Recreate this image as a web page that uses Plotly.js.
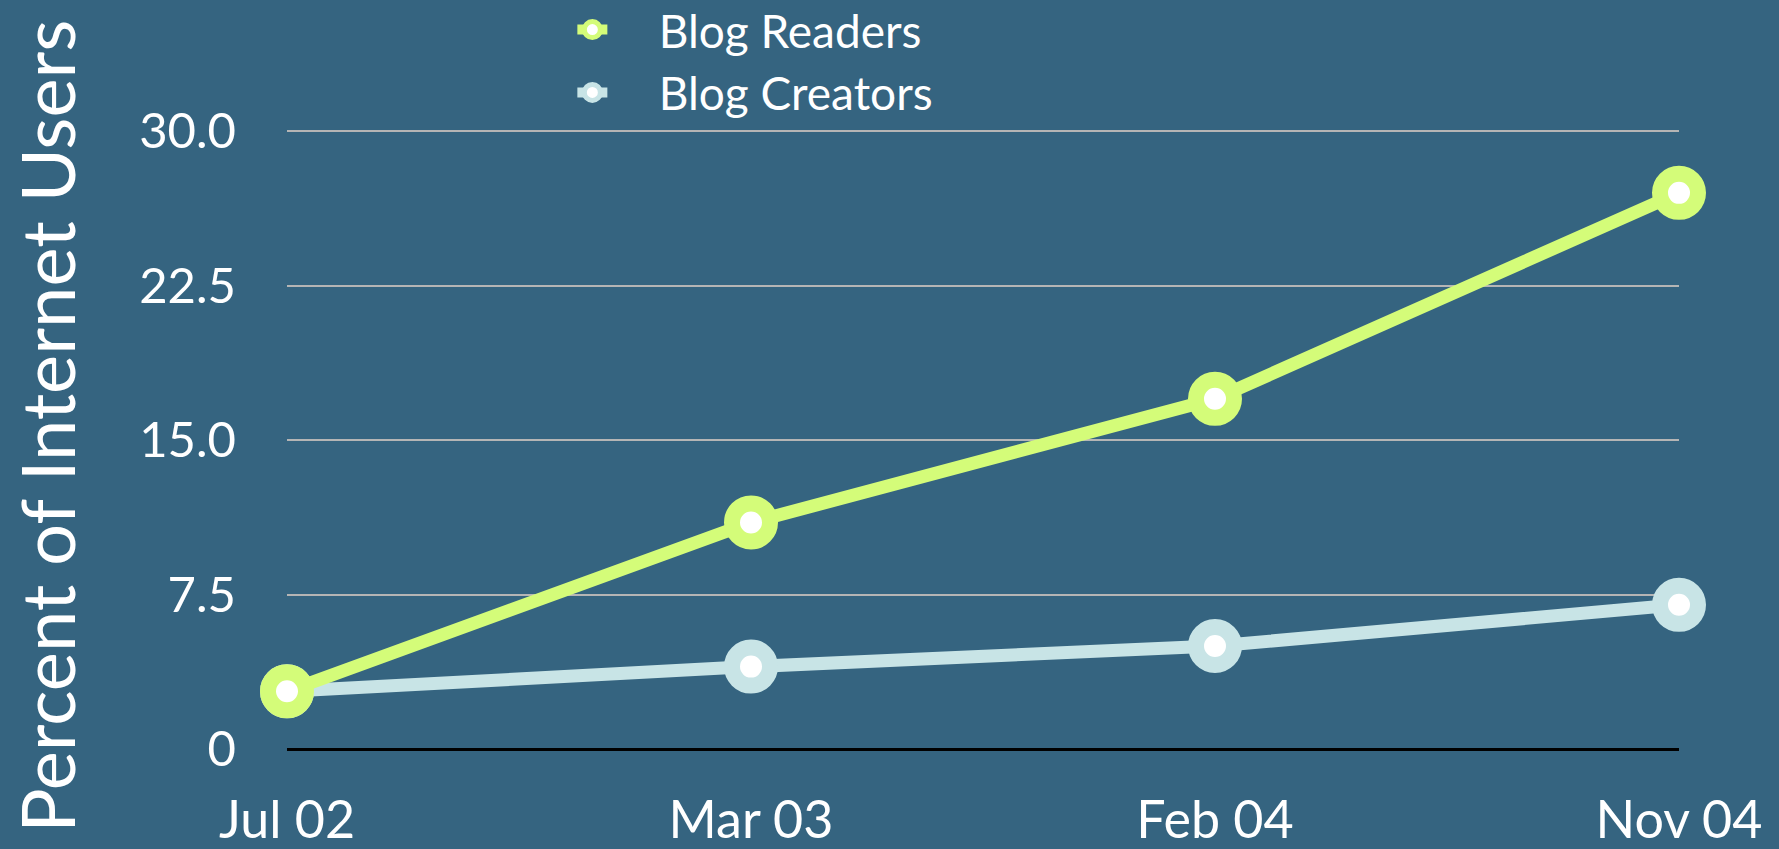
<!DOCTYPE html>
<html>
<head>
<meta charset="utf-8">
<script src="https://cdn.plot.ly/plotly-3.0.1.min.js"></script>
<style>html,body{margin:0;padding:0;background:#356480;}#chart{width:1779px;height:849px;}</style>
</head>
<body>
<div id="chart"></div>
<script>
const categories = ['Jul 02', 'Mar 03', 'Feb 04', 'Nov 04'];
const blogReaders = [2.8, 11, 17, 27];
const blogCreators = [2.8, 4, 5, 7];
const yTickVals = [0, 7.5, 15, 22.5, 30];
const yTickText = ['0', '7.5', '15.0', '22.5', '30.0'];
const seriesNames = ['Blog Readers', 'Blog Creators'];
const yTitle = 'Percent of Internet Users';

const FONT = 'Lato, "Open Sans", sans-serif';
const BG = '#356480';
const GAP = '\u2003\u00a0';

const traces = [
  {
    x: categories, y: blogCreators, name: GAP + seriesNames[1], type: 'scatter', mode: 'lines+markers',
    line: {color: '#c8e4e6', width: 13},
    marker: {size: 38, color: '#ffffff', line: {color: '#c8e4e6', width: 16}},
    cliponaxis: false, legendrank: 2
  },
  {
    x: categories, y: blogReaders, name: GAP + seriesNames[0], type: 'scatter', mode: 'lines+markers',
    line: {color: '#d4fc79', width: 13},
    marker: {size: 38, color: '#ffffff', line: {color: '#d4fc79', width: 16}},
    cliponaxis: false, legendrank: 1
  }
];

const layout = {
  width: 1779, height: 849,
  paper_bgcolor: BG, plot_bgcolor: BG,
  margin: {l: 287, r: 100, t: 129, b: 100, autoexpand: false},
  font: {family: FONT, color: '#ffffff', size: 48},
  showlegend: true,
  legend: {
    x: 0.205, xanchor: 'left', y: 1.219, yanchor: 'top',
    bgcolor: 'rgba(0,0,0,0)', font: {size: 46, color: '#ffffff', family: FONT},
    tracegroupgap: 0, itemwidth: 30
  },
  xaxis: {
    type: 'category', range: [0, 3], showgrid: false, zeroline: false, showline: false,
    ticks: '', ticklabelstandoff: 36,
    tickfont: {size: 52, color: '#ffffff', family: FONT}
  },
  yaxis: {
    range: [0, 30.1], tickvals: yTickVals, ticktext: yTickText,
    showgrid: true, gridcolor: '#b5b5b5', gridwidth: 2,
    zeroline: true, zerolinecolor: '#000000', zerolinewidth: 3,
    showline: false, ticks: '', ticklabelstandoff: 50,
    tickfont: {size: 49, color: '#ffffff', family: FONT}
  },
  annotations: [{
    text: yTitle, textangle: -90, showarrow: false,
    xref: 'paper', yref: 'paper', x: -0.173, y: 0.52, xanchor: 'center', yanchor: 'middle',
    font: {size: 74, color: '#ffffff', family: FONT}
  }]
};

Plotly.newPlot('chart', traces, layout, {displayModeBar: false, staticPlot: true});
</script>
</body>
</html>
